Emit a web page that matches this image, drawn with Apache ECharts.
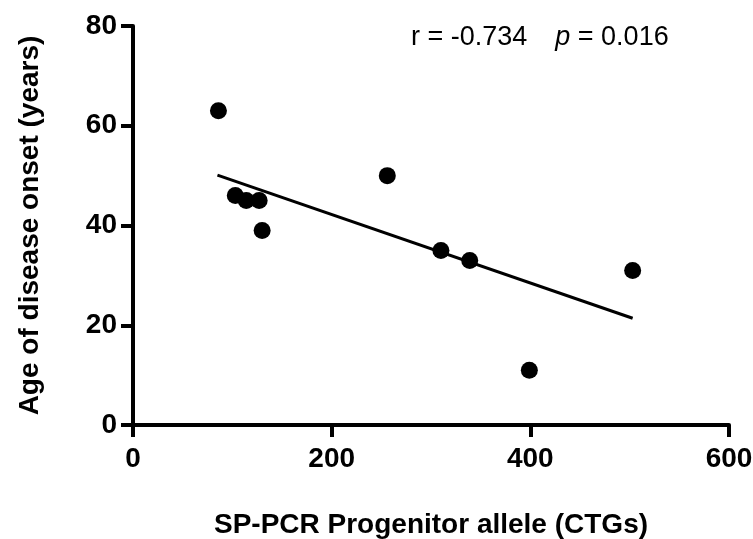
<!DOCTYPE html>
<html lang="en">
<head>
    <meta charset="UTF-8">
    <title>Age of onset vs progenitor allele</title>
    <script src="https://cdn.jsdelivr.net/npm/echarts@6/dist/echarts.min.js"></script>
</head>
<style type="text/css">
    html,body,#chart{
        width: 100%;
        height: 100%;
        margin: 0;
        padding: 0;
        background: #fff;
    }
</style>
<body>
<div id="chart"></div>
<script>
    // patient points
    var ctgs  = [86, 103, 114, 127, 130, 256, 310, 339, 399, 503];
    var onset = [63, 46, 45, 45, 39, 50, 35, 33, 11, 31];
    // ends of the fitted line
    var fitX = [85, 503];
    var fitY = [50.1, 21.4];
    var xTicks = [0, 200, 400, 600];
    var yTicks = [0, 20, 40, 60, 80];

    var points = [];
    for (var i = 0; i < ctgs.length; i++) {
        points.push([ctgs[i], onset[i]]);
    }
    var fit = [];
    for (var j = 0; j < fitX.length; j++) {
        fit.push([fitX[j], fitY[j]]);
    }

    var font = 'Liberation Sans, Arial, sans-serif';
    var myChart = echarts.init(document.getElementById('chart'));
    var options = {
        animation: false,
        title: {
            left: 406,
            top: 19,
            text: '{a|r = -0.734}{g|}{b|p}{a| = 0.016}',
            textStyle: {
                fontWeight: 'normal',
                rich: {
                    a: { fontFamily: font, fontSize: 27, fontWeight: 'normal', color: '#000' },
                    g: { width: 28 },
                    b: { fontFamily: font, fontSize: 27, fontWeight: 'normal', color: '#000', fontStyle: 'italic' }
                }
            }
        },
        grid: {
            left: 133,
            right: 24,
            top: 26,
            bottom: 114,
            outerBoundsMode: 'none',
            containLabel: false
        },
        xAxis: {
            type: 'value',
            min: xTicks[0],
            max: xTicks[xTicks.length - 1],
            interval: 200,
            name: 'SP-PCR Progenitor allele (CTGs)',
            nameLocation: 'middle',
            nameGap: 86,
            nameTextStyle: { fontFamily: font, fontSize: 28, fontWeight: 'bold', color: '#000' },
            axisLine: { lineStyle: { color: '#000', width: 4 } },
            axisTick: { length: 12, lineStyle: { color: '#000', width: 4 } },
            axisLabel: { margin: 20, fontFamily: font, fontSize: 28, fontWeight: 'bold', color: '#000' },
            splitLine: { show: false }
        },
        yAxis: {
            type: 'value',
            min: yTicks[0],
            max: yTicks[yTicks.length - 1],
            interval: 20,
            name: 'Age of disease onset (years)',
            nameLocation: 'middle',
            nameGap: 89,
            nameTextStyle: { fontFamily: font, fontSize: 28, fontWeight: 'bold', color: '#000' },
            axisLine: { lineStyle: { color: '#000', width: 4 } },
            axisTick: { length: 12, lineStyle: { color: '#000', width: 4 } },
            axisLabel: { margin: 16, fontFamily: font, fontSize: 28, fontWeight: 'bold', color: '#000' },
            splitLine: { show: false }
        },
        series: [{
            type: 'line',
            data: fit,
            symbol: 'none',
            lineStyle: { color: '#000', width: 3 },
            z: 2
        }, {
            type: 'scatter',
            data: points,
            symbol: 'circle',
            symbolSize: 17,
            itemStyle: { color: '#000', opacity: 1 },
            z: 3
        }]
    };
    myChart.setOption(options);
</script>
</body>
</html>
